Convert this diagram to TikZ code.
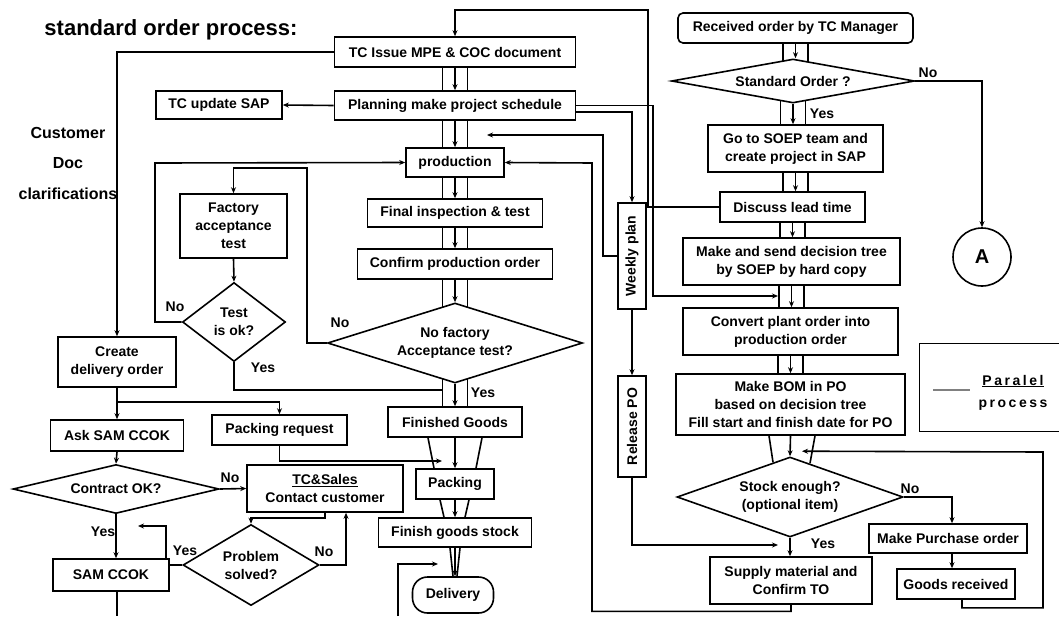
\documentclass[tikz,border=0pt]{standalone}
\usepackage{fontspec}
\usepackage{graphicx}
\setmainfont{Liberation Sans}
\usetikzlibrary{shapes.geometric,arrows.meta,backgrounds,calc}
\newcommand\parconn[2]{%
 \draw[ln] ($(#1.south)+(-12.5,-6)$) -- ($(#1.south |- #2.north)+(-12.5,6)$);
 \draw[ln] ($(#1.south)+(12.5,-6)$) -- ($(#1.south |- #2.north)+(12.5,6)$);
 \draw[arr] (#1.south) -- (#1.south |- #2.north);}
\begin{document}
\begin{tikzpicture}[x=1pt,y=-1pt,
  every node/.style={font=\bfseries\fontsize{14}{18}\selectfont},
  box/.style={draw,line width=1.6pt,fill=white,inner sep=0pt,align=center},
  dia/.style={draw,diamond,line width=1.6pt,fill=white,inner sep=0pt,align=center},
  lbl/.style={inner sep=0pt},
  ln/.style={line width=1.6pt},
  arr/.style={line width=1.6pt,-{Stealth[length=6pt,width=5pt]}},
]
\useasboundingbox (0,0) rectangle (1059,616);

% title and side text
\node[font=\bfseries\fontsize{22}{26}\selectfont] (title) at (171,30) {standard order process:};
\node[font=\bfseries\fontsize{16}{18}\selectfont] (cust) at (68,133) {Customer};
\node[font=\bfseries\fontsize{16}{18}\selectfont] (doc) at (68,163) {Doc};
\node[font=\bfseries\fontsize{16}{18}\selectfont] (clar) at (68,194) {clarifications};

% central column
\node[box, minimum width=241, minimum height=30] (tcissue) at (455,52) {TC Issue MPE \& COC document};
\node[box, minimum width=241, minimum height=29] (plan) at (455,105.5) {Planning make project schedule};
\node[box, minimum width=126, minimum height=28] (tcsap) at (219,105) {TC update SAP};
\node[box, minimum width=98, minimum height=29] (prod) at (455,162.5) {production};
\node[box, minimum width=175, minimum height=28] (finsp) at (455,213) {Final inspection \& test};
\node[box, minimum width=195, minimum height=30] (confirm) at (455,264) {Confirm production order};
\node[dia, minimum width=255, minimum height=80, shape aspect=3.19] (nofat) at (455,343) {No factory\\Acceptance test?};
\node[box, minimum width=134, minimum height=30] (fg) at (455,422) {Finished Goods};
\node[box, minimum width=78, minimum height=30] (packing) at (455,484) {Packing};
\node[box, minimum width=153, minimum height=29] (fgs) at (455,532.5) {Finish goods stock};
\node[box, rounded corners=15pt, minimum width=81, minimum height=36] (delivery) at (453,595) {Delivery};

% left part
\node[box, minimum width=107, minimum height=64] (fat) at (233.5,226) {Factory\\acceptance\\test};
\node[dia, minimum width=103, minimum height=79, shape aspect=1.3] (testok) at (234,322) {Test\\is ok?};
\node[box, minimum width=118, minimum height=50] (cdo) at (117,362) {Create\\delivery order};
\node[box, minimum width=133, minimum height=31] (asksam) at (117,435.5) {Ask SAM CCOK};
\node[box, minimum width=135, minimum height=30] (packreq) at (279.5,430) {Packing request};
\node[dia, minimum width=206, minimum height=49, shape aspect=4.2] (contract) at (116,489) {Contract OK?};
\node[box, minimum width=156, minimum height=47] (tcsales) at (325,488.5) {\underline{TC\&Sales}\\Contact customer};
\node[dia, minimum width=136, minimum height=81, shape aspect=1.68] (probs) at (251,565) {Problem\\solved?};
\node[box, minimum width=116, minimum height=32] (samccok) at (111,575) {SAM CCOK};

% right part
\node[box, rounded corners=5pt, minimum width=235, minimum height=30] (recv) at (795.5,28) {Received order by TC Manager};
\node[dia, minimum width=243, minimum height=44, shape aspect=5.5] (std) at (793,81) {Standard Order ?};
\node[box, minimum width=175, minimum height=47] (soep) at (795.5,148.5) {Go to SOEP team and\\create project in SAP};
\node[box, minimum width=145, minimum height=30] (discuss) at (792.5,207) {Discuss lead time};
\node[box, minimum width=217, minimum height=47] (mksend) at (791.5,261.5) {Make and send decision tree\\by SOEP by hard copy};
\node[box, minimum width=215, minimum height=47] (convert) at (790.5,331.5) {Convert plant order into\\production order};
\node[box, minimum width=229, minimum height=61] (bom) at (790.5,404.5) {Make BOM in PO\\based on decision tree\\Fill start and finish date for PO};
\node[dia, minimum width=226, minimum height=80, shape aspect=2.83] (stock) at (790,497) {Stock enough?\\(optional item)};
\node[box, minimum width=162, minimum height=47] (supply) at (791,580.5) {Supply material and\\Confirm TO};
\node[box, minimum width=158, minimum height=29] (mpo) at (948,538.5) {Make Purchase order};
\node[box, minimum width=118, minimum height=30] (goods) at (956,584) {Goods received};
\node[circle, draw, line width=1.6pt, fill=white, minimum size=58, inner sep=0pt, font=\bfseries\fontsize{20}{24}\selectfont] (circA) at (982,257) {A};
\node[box, minimum width=28, minimum height=106] (weekly) at (632,256) {\rotatebox{90}{Weekly plan}};
\node[box, minimum width=28, minimum height=101] (release) at (632,426.5) {\rotatebox{90}{Release PO}};

% legend
\node[draw, line width=1.4pt, minimum width=150, minimum height=88, anchor=north west] (legend) at (919,343) {};
\draw[line width=1.8pt, gray] (933,390) -- (970,390);
\node[font=\bfseries\fontsize{14}{18}\selectfont\addfontfeature{LetterSpace=18}] (lgA) at (1013,381) {\underline{Paralel}};
\node[font=\bfseries\fontsize{14}{18}\selectfont\addfontfeature{LetterSpace=18}] (lgB) at (1013,405) {process};

% free-end coordinates
\coordinate (pIn) at (487,135);
\coordinate (mcIn) at (778,296);
\coordinate (supIn) at (778,545);
\coordinate (fgIn) at (442,390);
\coordinate (pkIn) at (442,461);
\coordinate (yesIn) at (138,526);
\coordinate (bot1) at (117,616);
\coordinate (bot2) at (398,616);
\coordinate (delIn) at (438,564);

% labels
\node[lbl] (l1) at (928,73) {No};
\node[lbl] (l2) at (822,114) {Yes};
\node[lbl] (l3) at (910,489) {No};
\node[lbl] (l4) at (823,544) {Yes};
\node[lbl] (l5) at (340,323) {No};
\node[lbl] (l6) at (483,393) {Yes};
\node[lbl] (l7) at (175,307) {No};
\node[lbl] (l8) at (263,368) {Yes};
\node[lbl] (l9) at (230,478) {No};
\node[lbl] (l10) at (103,532) {Yes};
\node[lbl] (l11) at (185,551) {Yes};
\node[lbl] (l12) at (324,552) {No};

\begin{pgfonlayer}{background}
\fill[white] (0,0) rectangle (1059,616);
% parallel connectors
\parconn{tcissue}{plan}
\parconn{plan}{prod}
\parconn{prod}{finsp}
\parconn{finsp}{confirm}
\parconn{confirm}{nofat}
\parconn{nofat}{fg}
\parconn{recv}{std}
\parconn{std}{soep}
\parconn{soep}{discuss}
\parconn{discuss}{mksend}
\parconn{mksend}{convert}
\parconn{convert}{bom}
% converging connectors
\draw[ln] ($(fg.south)+(-27,0)$) -- ($(packing.north)+(-21,0)$);
\draw[ln] ($(fg.south)+(27,0)$) -- ($(packing.north)+(21,0)$);
\draw[arr] (fg.south) -- (packing.north);
\draw[ln] ($(packing.south)+(-15,0)$) -- ($(fgs.north)+(-11,0)$);
\draw[ln] ($(packing.south)+(14,0)$) -- ($(fgs.north)+(10,0)$);
\draw[arr] (packing.south) -- (fgs.north);
\draw[ln] ($(fgs.south)+(-5,0)$) -- ($(fgs.south |- delivery.north)+(-2,0)$);
\draw[ln] ($(fgs.south)+(5,0)$) -- ($(fgs.south |- delivery.north)+(2,0)$);
\draw[arr] (fgs.south) -- (fgs.south |- delivery.north);
\draw[ln] ($(bom.south)+(-21.5,0)$) -- ($(stock.north)+(-17,6)$);
\draw[ln] ($(bom.south)+(24.5,0)$) -- ($(stock.north)+(20,7)$);
\draw[arr] (bom.south) -- (stock.north);
% right side
\draw[arr] (std.east) -| (circA.north);
\draw[arr] (stock.east) -| ([xshift=4pt]mpo.north);
\draw[arr] ([xshift=4pt]mpo.south) -- ([xshift=-4pt]goods.north);
\draw[arr] ([xshift=6pt]goods.south) -- ++(0,8) -| (1043,452) -- ($(stock.north)+(12,-5)$);
\draw[arr] (stock.south) -- (stock.south |- supply.north);
\draw[arr] (supply.south) -- ++(0,6.5) -| (592,163) -- (prod.east);
\draw[arr] (release.south) |- (supIn);
\draw[arr] (weekly.south) -- (release.north);
\draw[arr] (weekly.west) -| (603,135) -- (pIn);
\draw[arr] ([yshift=-6.5pt]plan.east) -| (weekly.north);
\draw[arr] (plan.east) -| (653,296) -- (mcIn);
\draw[ln] (discuss.west) -- (weekly.east |- discuss.west);
\draw[arr] (discuss.west) -| (648,10) -| (tcissue.north);
\draw[arr] (plan.west) -- (tcsap.east);
% left side
\draw[arr] (tcissue.west) -| (cdo.north);
\draw[arr] (nofat.west) -| (307,168) -| (fat.north);
\draw[arr] (fat.south) -- (testok.north);
\draw[arr] (testok.west) -| (155,163) -- (prod.west);
\draw[ln] (testok.south) |- (fgIn);
\draw[arr] (cdo.south) -- (asksam.north);
\draw[arr] ($(cdo.south)+(0,14)$) -| (packreq.north);
\draw[arr] (packreq.south) |- (pkIn);
\draw[arr] (asksam.south) -- (contract.north);
\draw[arr] (contract.east) -- (tcsales.west);
\draw[arr] (contract.south) -- (contract.south |- samccok.north);
\draw[arr] (tcsales.south) -- ++(0,5) -| (probs.north);
\draw[arr] (probs.east) -| ($(tcsales.south)+(21,0)$);
\draw[ln] (probs.west) -- (probs.west -| samccok.east);
\draw[arr] ($(samccok.north east)+(-4,0)$) |- (yesIn);
\draw[ln] (samccok.south -| bot1) -- (bot1);
\draw[arr] (bot2) |- (delIn);
\end{pgfonlayer}
\end{tikzpicture}
\end{document}
